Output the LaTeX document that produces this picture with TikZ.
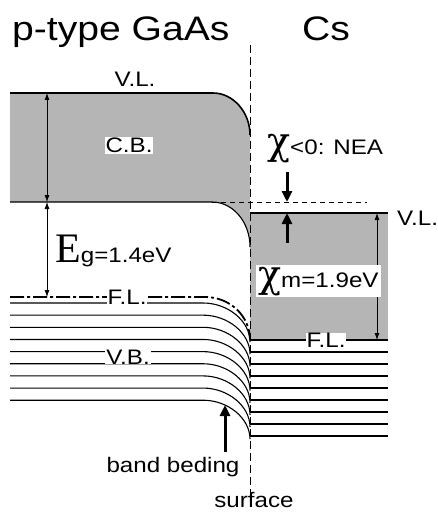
\documentclass[tikz,border=0pt]{standalone}
\usepackage{fontspec}
\usepackage{graphicx}
\setmainfont{Liberation Sans}
\newfontfamily\serifgr{Liberation Serif}
\newfontfamily\chifont{DejaVu Serif}
\usetikzlibrary{arrows.meta}
\newcommand{\hstretch}[1]{\scalebox{1.15}[1]{#1}}
\tikzset{
  shadefill/.style={fill=black!29},
  bandline/.style={line width=1.1pt},
  lbl/.style={font=\fontsize{21}{21}\selectfont, inner sep=1pt},
  dbl/.style={{Latex[length=7pt,width=5pt]}-{Latex[length=7pt,width=5pt]}, line width=0.8pt},
  bigarrow/.style={-{Triangle[length=11pt,width=10pt]}, line width=3pt},
  fermi/.style={line width=1.8pt, dash pattern=on 14pt off 3pt on 3pt off 3pt},
}
\begin{document}
\begin{tikzpicture}[x=1pt,y=-1pt]
\useasboundingbox (0,0) rectangle (438,513);
% shaded regions
\fill[shadefill] (10,93) -- (213,93) .. controls (233,93) and (250,112) .. (250,135)
  -- (250,247) .. controls (250,222) and (233,202) .. (212,202) -- (10,202) -- cycle;
\fill[shadefill] (250,213) rectangle (388,340);
% surface line
\coordinate (stop) at (250,45);
\coordinate (sbot) at (250,495);
\draw[line width=0.8pt, dash pattern=on 8pt off 4pt] (stop) -- (sbot);
% GaAs band edges
\draw[line width=1.6pt] (10,93) -- (213,93) .. controls (233,93) and (250,112) .. (250,135);
\draw[bandline] (10,202) -- (212,202) .. controls (233,202) and (250,222) .. (250,247);
\draw[line width=0.8pt, dash pattern=on 5pt off 4pt] (212,202) -- (367,202);
% Cs levels
\draw[line width=1.4pt] (250,213) -- (388,213);
\draw[line width=1.6pt] (250,340) -- (388,340);
\foreach \i in {0,...,7} {
  \draw[bandline] (250,{352+12*\i}) -- (388,{352+12*\i});
}
% valence band lines
\foreach \i in {0,...,8} {
  \pgfmathsetmacro{\yy}{303+12.15*\i}
  \draw[bandline] (10,\yy) -- (203,\yy) .. controls (228,\yy) and (250,\yy+18) .. (250,\yy+39);
}
% Fermi level
\draw[fermi] (10,297) -- (205,297) .. controls (230,297) and (250,316) .. (250,340);
% arrows
\draw[dbl] (47,93) -- (47,202);
\draw[dbl] (47,202) -- (47,297);
\draw[dbl] (377,213) -- (377,340);
\draw[bigarrow] (287,172) -- (287,202);
\draw[bigarrow] (287,243) -- (287,213);
\draw[bigarrow] (225,452) -- (225,405);
% texts
\node[anchor=base west, inner sep=0pt] (t1) at (12,41) {\fontsize{34}{34}\selectfont\hstretch{p-type GaAs}};
\node[anchor=base west, inner sep=0pt] (t2) at (302,41) {\fontsize{34}{34}\selectfont\hstretch{Cs}};
\node[lbl, anchor=base] (vl1) at (135,87) {\hstretch{V.L.}};
\node[lbl, anchor=base, fill=white] (cb) at (129,153) {\hstretch{C.B.}};
\node[lbl, anchor=base, fill=white, inner ysep=0pt] (fl1) at (127,304) {\hstretch{F.L.}};
\node[lbl, anchor=base, fill=white, inner ysep=0pt] (vb) at (128,364) {\hstretch{V.B.}};
\node[lbl, anchor=base west] (vl2) at (396,225) {\hstretch{V.L.}};
\node[lbl, anchor=base, fill=white, inner ysep=0pt] (fl2) at (326,347) {\hstretch{F.L.}};
\node[anchor=base west, inner sep=0pt] (eg) at (55,262) {{\serifgr\fontsize{42}{42}\selectfont E}{\fontsize{21}{21}\selectfont\hstretch{g=1.4eV}}};
\node[anchor=base west, fill=white, inner sep=2pt] (chim) at (256,287) {{\chifont\fontsize{38}{38}\selectfont χ}{\fontsize{21}{21}\selectfont\hstretch{m=1.9eV}}};
\node[anchor=base west, inner sep=0pt] (nea) at (267,154) {{\chifont\fontsize{38}{38}\selectfont χ}{\fontsize{21}{21}\selectfont\hstretch{<0: NEA}}};
\node[lbl, anchor=base] (bb) at (173,472) {\hstretch{band beding}};
\node[lbl, anchor=base] (sf) at (254,507) {\hstretch{surface}};
\end{tikzpicture}
\end{document}
